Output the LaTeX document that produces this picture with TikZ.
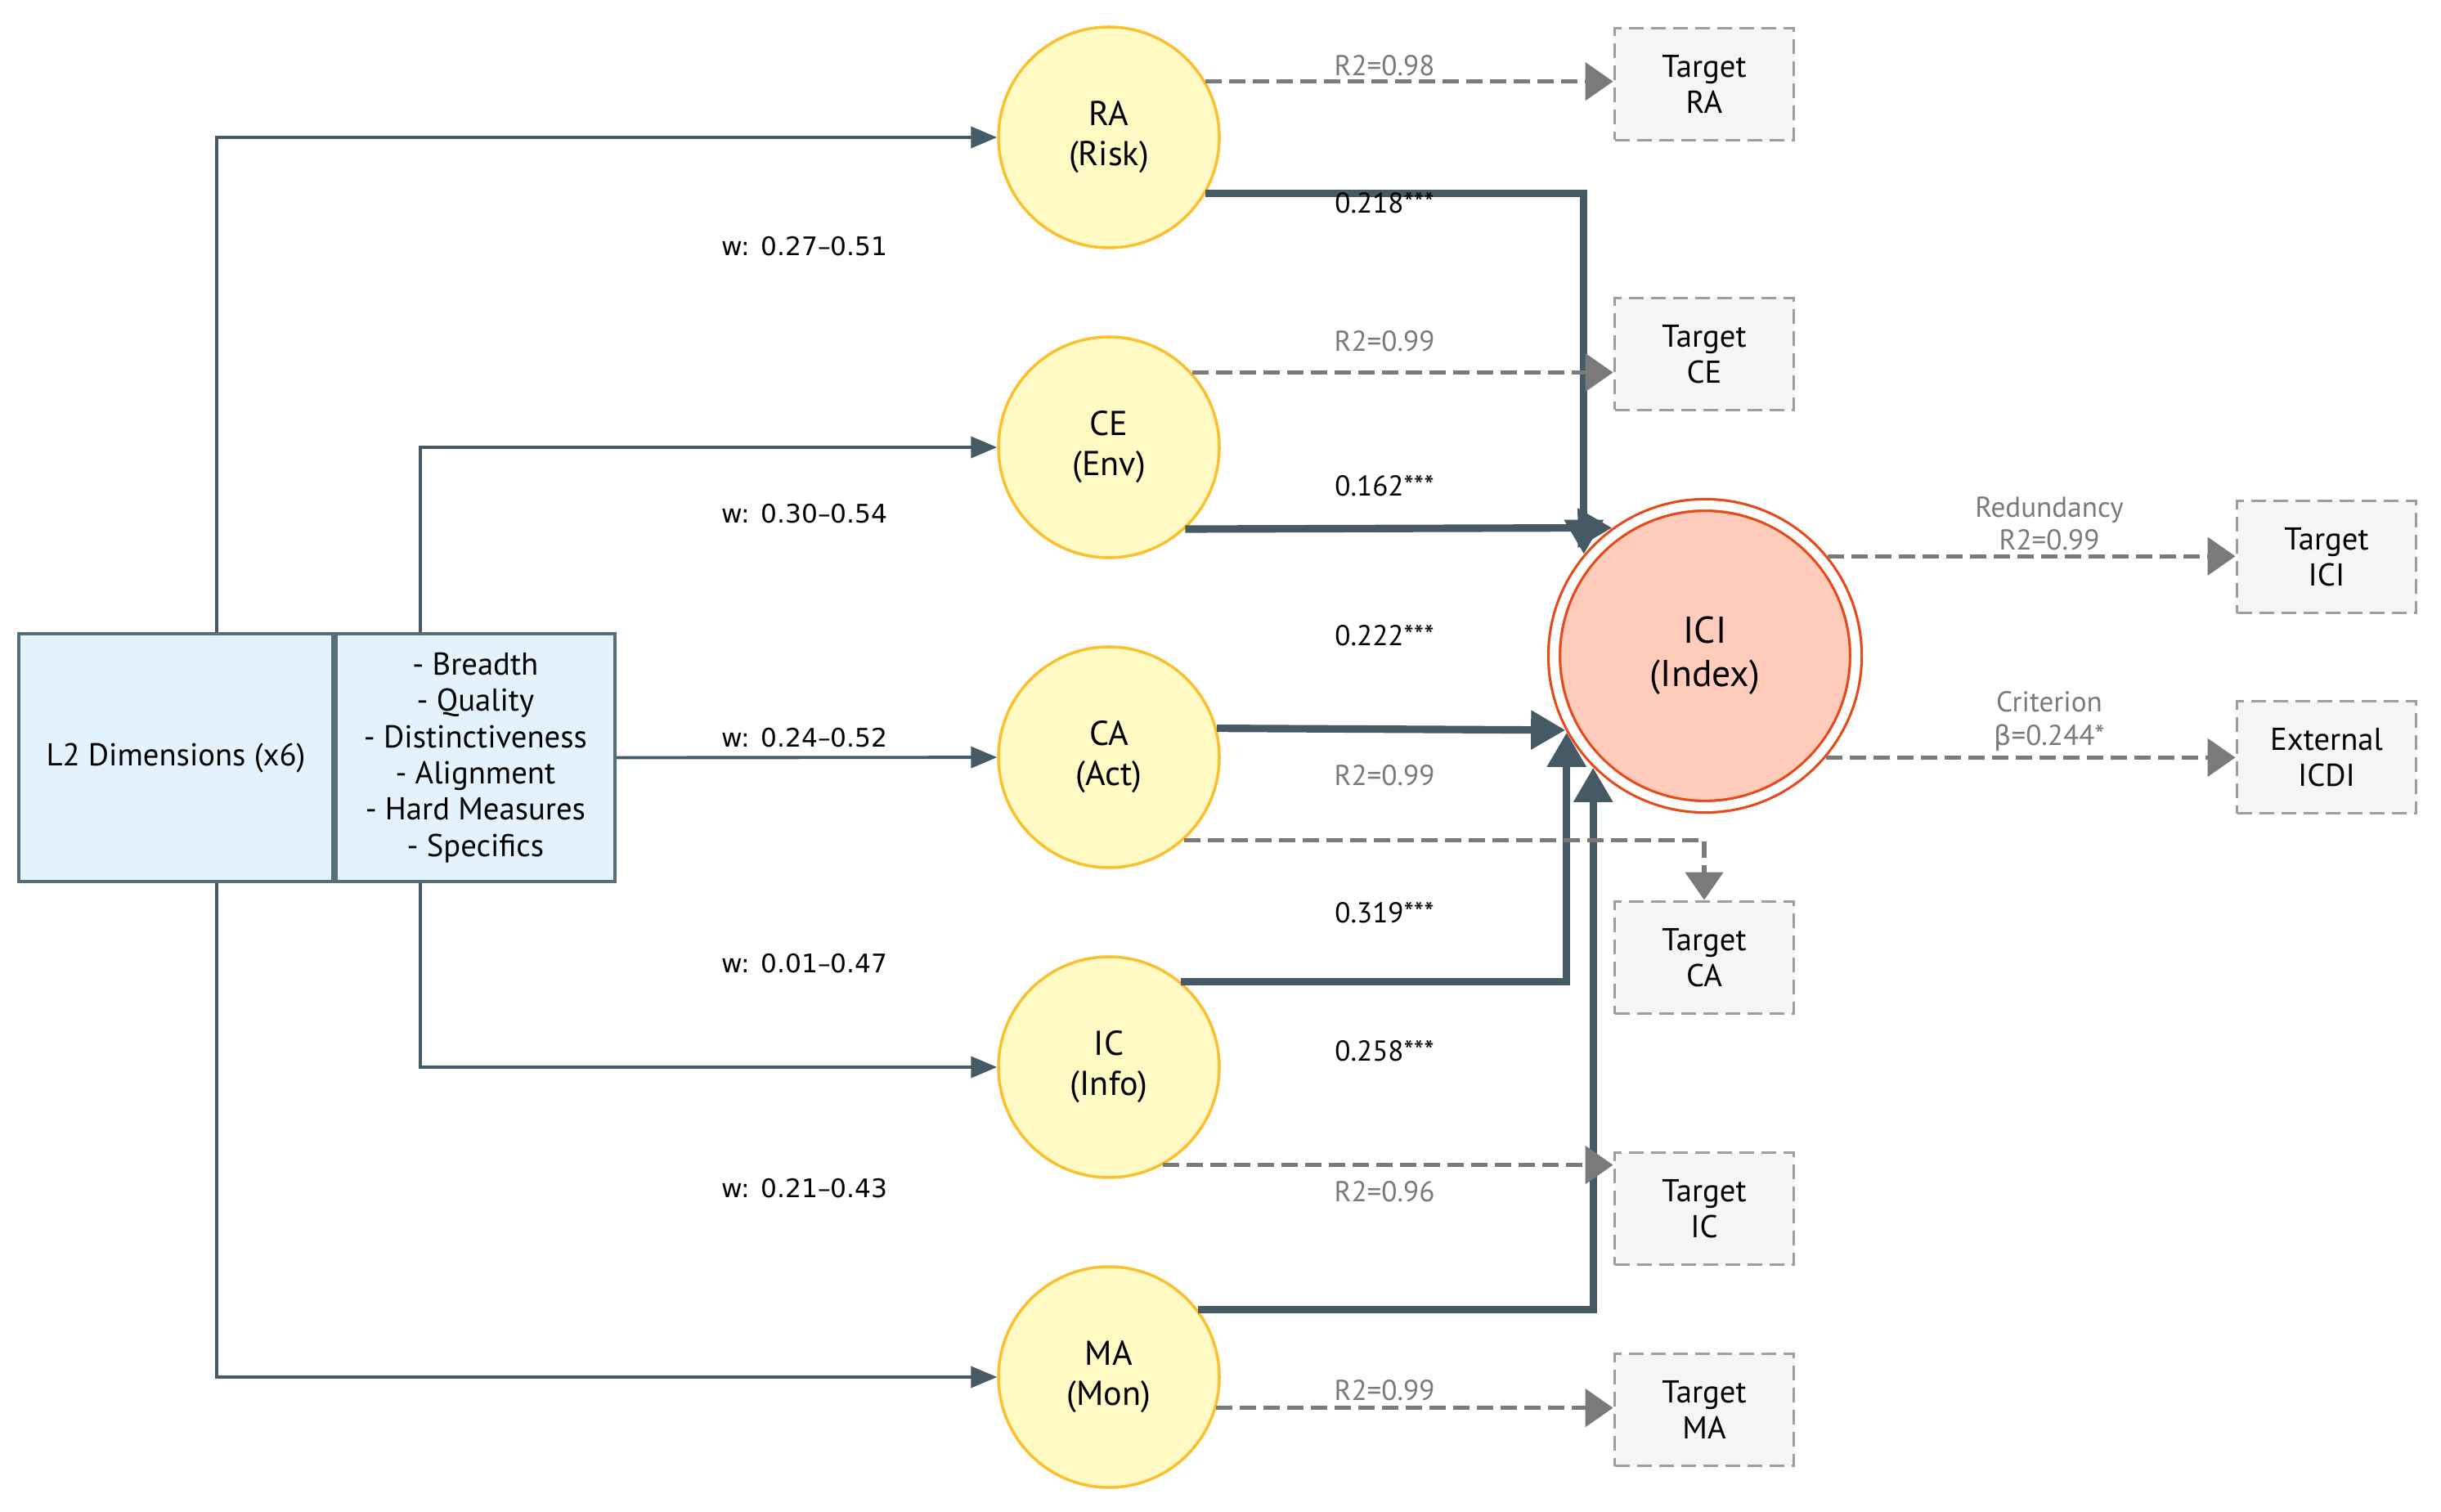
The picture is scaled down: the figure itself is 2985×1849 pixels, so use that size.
\documentclass[tikz,border=0pt]{standalone}
\usepackage{fontspec}
\setmainfont{PT Sans}
\newfontfamily\wfont{DejaVu Sans}
\usetikzlibrary{arrows.meta, positioning}

\definecolor{slate}{HTML}{455A64}
\definecolor{slateline}{HTML}{546E7A}
\definecolor{lemon}{HTML}{FFF9C4}
\definecolor{amber}{HTML}{FBC02D}
\definecolor{salmon}{HTML}{FFCCBC}
\definecolor{rust}{HTML}{E64A19}
\definecolor{skyfill}{HTML}{E3F2FD}
\definecolor{fitgray}{HTML}{7A7A7A}
\definecolor{boxgray}{HTML}{9E9E9E}
\definecolor{boxfill}{HTML}{F5F5F5}

\tikzset{
  factor/.style = {circle, draw=amber, fill=lemon, line width=1pt,
    minimum size=27mm, align=center, font=\fontsize{12}{14}\selectfont},
  index/.style = {circle, draw=rust, fill=salmon, line width=0.9pt,
    double=white, double distance=1.1mm, minimum size=36.9mm, outer sep=0.9mm,
    align=center, font=\fontsize{13}{15}\selectfont},
  target/.style = {rectangle, draw=boxgray, fill=boxfill, line width=1.1pt,
    dash pattern=on 1.8mm off 0.9mm, minimum width=21.9mm,
    minimum height=13.7mm, align=center, font=\fontsize{11}{12.5}\selectfont},
  dimbox/.style = {rectangle, draw=slateline, fill=skyfill, line width=1.1pt,
    minimum height=30.3mm, align=center, font=\fontsize{11}{12.6}\selectfont},
  link/.style = {draw=slate, line width=1.1pt,
    -{Triangle[length=3.2mm, width=2.6mm]}},
  load/.style = {draw=slate, line width=2.6pt,
    -{Triangle[length=4.2mm, width=4.6mm]}},
  fitarr/.style = {draw=fitgray, line width=1.5pt, dash pattern=on 2mm off 0.9mm,
    -{Triangle[length=3.4mm, width=4.6mm]}},
  coef/.style = {font=\fontsize{10}{12}\selectfont},
  fitlab/.style = {text=fitgray, align=center, font=\fontsize{10}{11.5}\selectfont},
  wlab/.style = {font=\wfont\fontsize{8.9}{10}\selectfont},
}

\begin{document}
\begin{tikzpicture}[x=0.1mm, y=-0.1mm, node distance=37.9mm, on grid]
  \useasboundingbox (0,0) rectangle (2985,1849);

  % L2 dimensions block
  \node (dims) [dimbox, minimum width=38.4mm] at (215,926.5) {L2 Dimensions (x6)};
  \node (items) [dimbox, minimum width=34.1mm, anchor=west] at (dims.east)
    {- Breadth\\- Quality\\- Distinctiveness\\- Alignment\\- Hard Measures\\- Specifics};

  % first-order factors
  \node (ra) [factor] at (1356,168) {RA\\(Risk)};
  \node (ce) [factor, below=of ra] {CE\\(Env)};
  \node (ca) [factor, below=of ce] {CA\\(Act)};
  \node (ic) [factor, below=of ca] {IC\\(Info)};
  \node (ma) [factor, below=of ic] {MA\\(Mon)};

  \node (ici) [index] at (2085,802) {ICI\\(Index)};

  % validation targets
  \node (tra) [target] at (2084,103) {Target\\RA};
  \node (tce) [target] at (2084,433) {Target\\CE};
  \node (tca) [target] at (2084,1171) {Target\\CA};
  \node (tic) [target] at (2084,1478) {Target\\IC};
  \node (tma) [target] at (2084,1724) {Target\\MA};
  \node (tici) [target] at (2845,681) {Target\\ICI};
  \node (ext) [target, below=24.5mm of tici] {External\\ICDI};

  % indicator paths
  \draw [link] ([xshift=5mm]dims.north) |- (ra);
  \draw [link] ([xshift=5mm]dims.south) |- (ma);
  \draw [link] ([xshift=-6.75mm]items.north) |- (ce);
  \draw [link] ([xshift=-6.75mm]items.south) |- (ic);
  \draw [link] (items.east) -- (ca);

  % loadings on the index
  \draw [load] (ra.-30) -| (ici.140);
  \draw [load] (ce.-47) -- (ici.126);
  \draw [load] (ca.15) -- (ici.208);
  \draw [load] (ic.50) -| (ici.209);
  \draw [load] (ma.37) -| (ici.225);

  % redundancy checks
  \draw [fitarr] (ra.30) -- (ra.30 -| tra.west);
  \draw [fitarr] (ce.42) -- (ce.42 -| tce.west);
  \draw [fitarr] (ca.-48) -| (tca);
  \draw [fitarr] (ic.-61) -- (ic.-61 -| tic.west);
  \draw [fitarr] (ma.-16) -- (ma.-16 -| tma.west);
  \draw [fitarr] (ici.39) -- (ici.39 -| tici.west);
  \draw [fitarr] (ici.-40) -- (ici.-40 -| ext.west);

  % labels
  \foreach \y/\w in {301/0.27–0.51, 628/0.30–0.54, 902/0.24–0.52,
                     1178/0.01–0.47, 1453/0.21–0.43}
    \node [wlab] at (984,\y) {w: \w};
  \foreach \y/\c in {248/0.218, 594/0.162, 777/0.222, 1116/0.319, 1285/0.258}
    \node [coef] at (1693,\y) {\c***};
  \foreach \y/\r in {80/0.98, 417/0.99, 948/0.99, 1457/0.96, 1700/0.99}
    \node [fitlab] at (1693,\y) {R2=\r};
  \node [fitlab] at (2506,640) {Redundancy\\R2=0.99};
  \node [fitlab] at (2506,882) {Criterion\\{\wfont\fontsize{9.5}{11.5}\selectfont β}=0.244*};
\end{tikzpicture}
\end{document}
